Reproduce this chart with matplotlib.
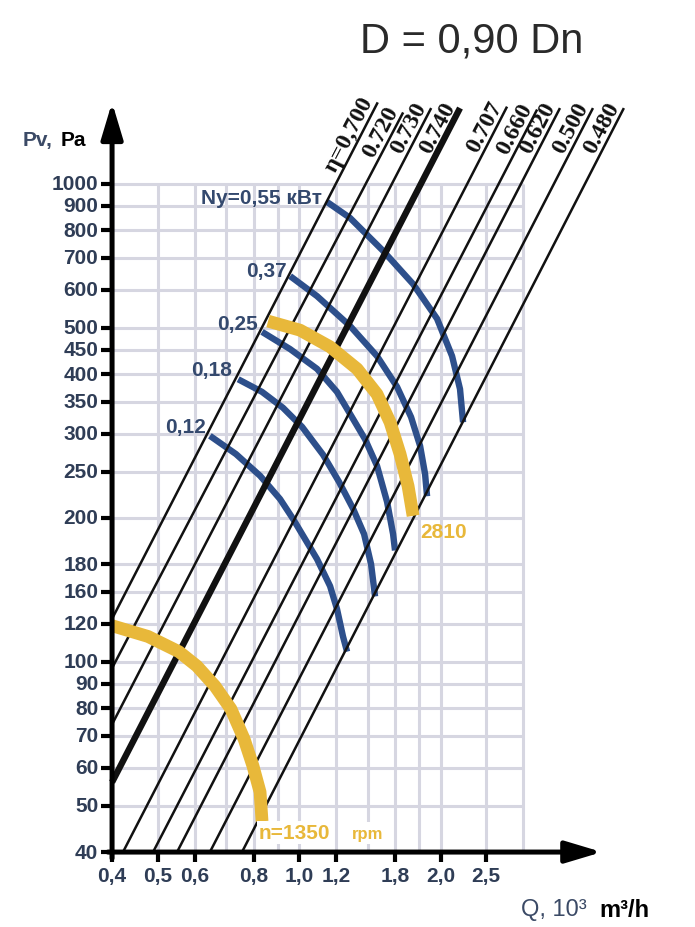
"""
Fan chart D = 0,90 Dn: pressure Pv vs flow Q on log-log axes,
efficiency rays, power curves (blue) and speed curves (yellow).
"""

import matplotlib

matplotlib.use("Agg")
import matplotlib.pyplot as plt

# ---- axes / ticks ----
X_TICKS = [0.4, 0.5, 0.6, 0.8, 1.0, 1.2, 1.6, 2.0, 2.5]
X_TICK_LABELS = ["0,4", "0,5", "0,6", "0,8", "1,0", "1,2", "1,8", "2,0", "2,5"]
Y_TICKS = [40, 50, 60, 70, 80, 90, 100, 120, 140, 160, 200, 250, 300, 350, 400, 450,
           500, 600, 700, 800, 900, 1000]
Y_TICK_LABELS = ["40", "50", "60", "70", "80", "90", "100", "120", "160", "180", "200",
                 "250", "300", "350", "400", "450", "500", "600", "700", "800", "900", "1000"]
X_GRID = [0.5, 0.6, 0.7, 0.8, 0.9, 1.0, 1.2, 1.4, 1.6, 1.8, 2.0, 2.5, 3.0]
Y_GRID = Y_TICKS[1:]
Q_MIN, Q_MAX, P_MIN, P_MAX = 0.4, 3.0, 40, 1000

# ---- efficiency rays ----
ETA_LABELS = ["η=0,700", "0.720", "0.730", "0.740", "0.707", "0.660", "0.620", "0.500", "0.480"]
ETA_Q0 = [0.4, 0.4, 0.4, 0.4, 0.422, 0.489, 0.55, 0.646, 0.756]
ETA_P0 = [123, 97, 74, 56, 40, 40, 40, 40, 40]
ETA_Q1 = [1.47, 1.665, 1.91, 2.20, 2.77, 3.21, 3.59, 4.22, 4.91]
ETA_P1 = [1480, 1410, 1440, 1440, 1450, 1430, 1440, 1440, 1440]
ETA_THICK = "0.740"

# ---- power curves, kW ----
N055_Q = [1.147, 1.284, 1.509, 1.748, 1.966, 2.116, 2.200, 2.233]
N055_P = [916, 848, 724, 617, 522, 436, 372, 317]
N037_Q = [0.957, 1.092, 1.284, 1.465, 1.616, 1.731, 1.809, 1.854, 1.872]
N037_P = [641, 582, 504, 436, 376, 325, 283, 247, 222]
N025_Q = [0.834, 0.957, 1.092, 1.204, 1.303, 1.382, 1.465, 1.539, 1.585, 1.600]
N025_P = [490, 451, 410, 367, 322, 292, 257, 216, 185, 171]
N018_Q = [0.742, 0.834, 0.924, 1.015, 1.125, 1.216, 1.303, 1.375, 1.423, 1.451]
N018_P = [390, 367, 340, 310, 271, 238, 209, 185, 160, 137]
N012_Q = [0.646, 0.734, 0.826, 0.911, 0.971, 1.092, 1.164, 1.204, 1.240, 1.265]
N012_P = [297, 272, 245, 219, 199, 164, 144, 129, 113, 105]
POWER_LABELS = ["Ny=0,55 кВт", "0,37", "0,25", "0,18", "0,12"]
POWER_LABEL_Q = [1.119, 0.943, 0.818, 0.720, 0.634]
POWER_LABEL_P = [938, 660, 509, 408, 310]

# ---- speed curves, rpm ----
N2810_Q = [0.859, 1.005, 1.164, 1.329, 1.465, 1.562, 1.640, 1.706, 1.748]
N2810_P = [516, 494, 456, 410, 363, 317, 272, 233, 202]
N1350_Q = [0.400, 0.477, 0.555, 0.606, 0.662, 0.716, 0.764, 0.798, 0.826, 0.834]
N1350_P = [119, 113, 105, 98, 89, 79.7, 68.9, 60.5, 53.4, 46.4]

BLUE = "#2d4f8b"
YELLOW = "#e8b83a"
SLATE = "#2f3d56"
GRID = "#d6d6e1"
SANS = ["Liberation Sans", "DejaVu Sans"]
SERIF = ["Liberation Serif", "DejaVu Serif"]


def draw_curve(ax, q, p, color, lw, z):
    ax.plot(q, p, color=color, lw=lw, solid_capstyle="butt", solid_joinstyle="round",
            zorder=z)


def main() -> None:
    fig = plt.figure(figsize=(6.95, 9.28), dpi=100)
    ax = fig.add_axes([0, 0, 1, 1])
    ax.set_xscale("log")
    ax.set_yscale("log")
    ax.set_xlim(0.231, 6.957)
    ax.set_ylim(27.88, 2435)
    ax.axis("off")

    # grid
    ax.vlines(X_GRID, P_MIN, P_MAX, color=GRID, lw=2.2, zorder=1)
    ax.hlines(Y_GRID, Q_MIN, Q_MAX, color=GRID, lw=2.2, zorder=1)

    # power curves
    for q, p in [(N055_Q, N055_P), (N037_Q, N037_P), (N025_Q, N025_P),
                 (N018_Q, N018_P), (N012_Q, N012_P)]:
        draw_curve(ax, q, p, BLUE, 4.6, 3)
    for lab, q, p in zip(POWER_LABELS, POWER_LABEL_Q, POWER_LABEL_P):
        ax.text(q, p, lab, ha="right", va="center", fontsize=15, fontweight="bold",
                color="#34496e", family=SANS, zorder=6)

    # efficiency rays
    for lab, q0, p0, q1, p1 in zip(ETA_LABELS, ETA_Q0, ETA_P0, ETA_Q1, ETA_P1):
        lw = 4.6 if lab == ETA_THICK else 1.8
        ax.plot([q0, q1], [p0, p1], color="#111111", lw=lw, solid_capstyle="butt", zorder=4)
        ax.text(q1, p1, lab, rotation=62.5, rotation_mode="anchor", ha="right", va="bottom",
                fontsize=17.5, fontweight="bold", family=SERIF, color="#111111", zorder=6)

    # speed curves
    draw_curve(ax, N2810_Q, N2810_P, YELLOW, 9.2, 5)
    draw_curve(ax, N1350_Q, N1350_P, YELLOW, 9.2, 5)
    ax.text(1.809, 187, "2810", ha="left", va="center", fontsize=15, fontweight="bold",
            color=YELLOW, family=SANS, zorder=6)
    ax.text(0.822, 44.0, "n=1350", ha="left", va="center", fontsize=15, fontweight="bold",
            color=YELLOW, family=SANS, zorder=6,
            bbox=dict(facecolor="white", edgecolor="none", pad=1.5))
    ax.text(1.296, 43.8, "rpm", ha="left", va="center", fontsize=12, fontweight="bold",
            color=YELLOW, family=SANS, zorder=6,
            bbox=dict(facecolor="white", edgecolor="none", pad=2.5))

    # axes with arrows
    arrow = dict(arrowstyle="-|>,head_length=1.0,head_width=0.3", lw=3.6, color="black",
                 mutation_scale=22, shrinkA=0, shrinkB=0)
    ax.annotate("", xy=(Q_MIN, 1480), xytext=(Q_MIN, 38.8), arrowprops=arrow, zorder=7)
    ax.annotate("", xy=(4.41, P_MIN), xytext=(0.392, P_MIN), arrowprops=arrow, zorder=7)

    # ticks
    ax.plot([Q_MIN] * len(Y_TICKS), Y_TICKS, ls="none", marker=0, ms=8, mew=3,
            color="black", zorder=7)
    ax.plot(X_TICKS, [P_MIN] * len(X_TICKS), ls="none", marker=3, ms=7, mew=3,
            color="black", zorder=7)
    for p, lab in zip(Y_TICKS, Y_TICK_LABELS):
        ax.annotate(lab, xy=(Q_MIN, p), xytext=(-10, 0), textcoords="offset points",
                    ha="right", va="center", fontsize=15, fontweight="bold",
                    color=SLATE, family=SANS)
    for q, lab in zip(X_TICKS, X_TICK_LABELS):
        ax.annotate(lab, xy=(q, P_MIN), xytext=(0, -10), textcoords="offset points",
                    ha="center", va="top", fontsize=15, fontweight="bold",
                    color=SLATE, family=SANS)

    # axis titles
    fig.text(0.032, 0.849, "Pv,", ha="left", va="center", fontsize=15,
             fontweight="bold", color="#3b4a66", family=SANS)
    fig.text(0.087, 0.849, "Pa", ha="left", va="center", fontsize=15,
             fontweight="bold", color="black", family=SANS)
    fig.text(0.750, 0.019, "Q, 10³", ha="left", va="center", fontsize=17,
             color="#3b4a66", family=SANS)
    fig.text(0.862, 0.019, "m³/h", ha="left", va="center", fontsize=17,
             fontweight="bold", color="black", family=SANS)

    # title
    fig.text(0.679, 0.955, "D = 0,90 Dn", ha="center", va="center", fontsize=30,
             color="#2a2a2a", family=SANS)

    fig.savefig("out.png", dpi=100)
    plt.close(fig)


if __name__ == "__main__":
    main()
